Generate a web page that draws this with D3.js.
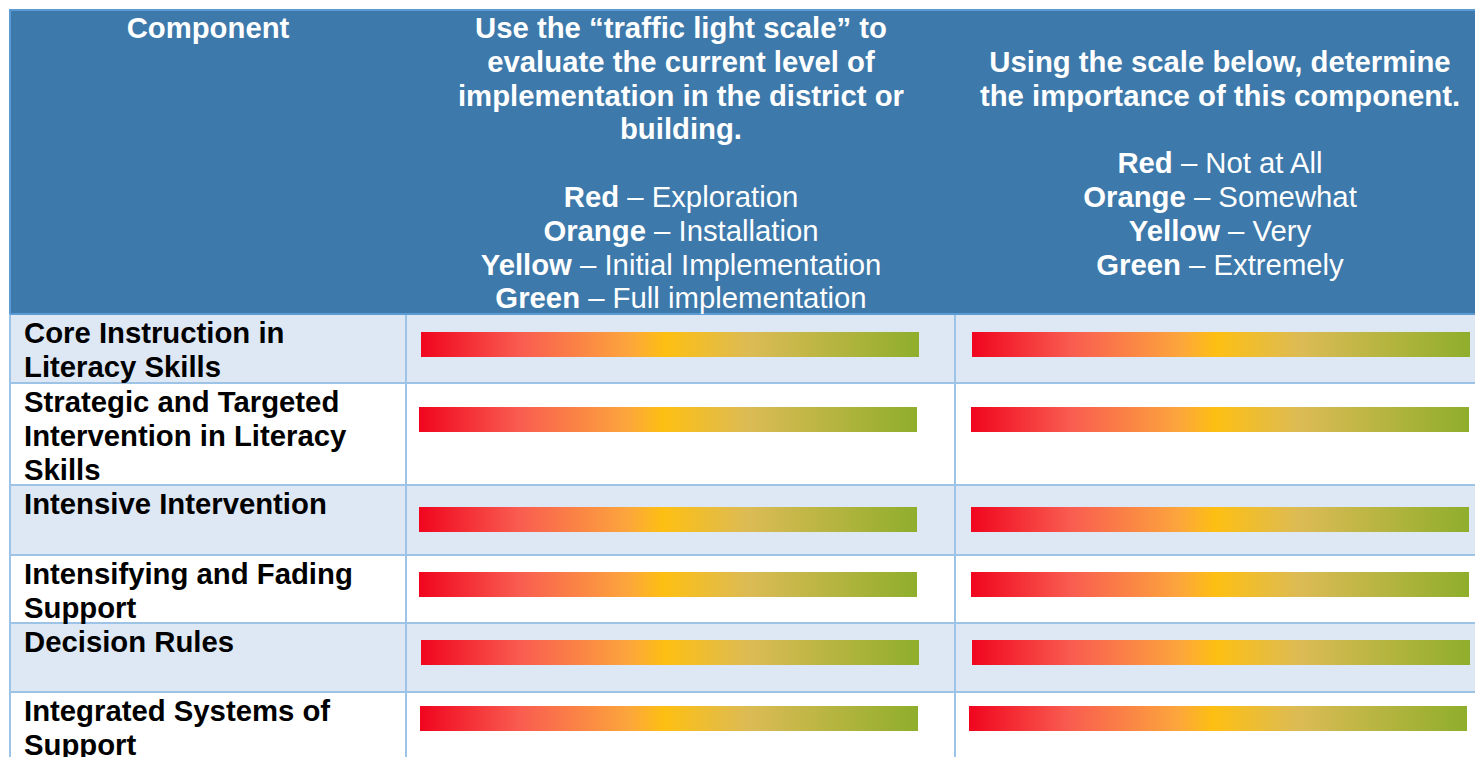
<!DOCTYPE html>
<html>
<head>
<meta charset="utf-8">
<script src="https://cdn.jsdelivr.net/npm/d3@7"></script>
<style>
  html, body { margin: 0; padding: 0; background: #ffffff; }
  svg { display: block; }
  text { font-family: "Liberation Sans", Arial, sans-serif; }
</style>
</head>
<body>
<svg id="chart" width="1475" height="757"></svg>
<script>
// ---------- data ----------
const headerTitles = [
  ["Component"],
  ["Use the \u201ctraffic light scale\u201d to", "evaluate the current level of", "implementation in the district or", "building."],
  ["Using the scale below, determine", "the importance of this component."]
];
const implementationLevels = ["Red", "Orange", "Yellow", "Green"];
const implementationLabels = ["Exploration", "Installation", "Initial Implementation", "Full implementation"];
const importanceLevels = ["Red", "Orange", "Yellow", "Green"];
const importanceLabels = ["Not at All", "Somewhat", "Very", "Extremely"];
const components = [
  ["Core Instruction in", "Literacy Skills"],
  ["Strategic and Targeted", "Intervention in Literacy", "Skills"],
  ["Intensive Intervention"],
  ["Intensifying and Fading", "Support"],
  ["Decision Rules"],
  ["Integrated Systems of", "Support"]
];
// each bar spans the full traffic-light scale (0 = red, 1 = green)
const scaleStart = [0, 0, 0, 0, 0, 0];
const scaleEnd = [1, 1, 1, 1, 1, 1];
const gradientOffsets = [0, 0.2, 0.42, 0.49, 0.66, 1];
const gradientColors = ["#f0051e", "#f95c50", "#fca63c", "#fdbf12", "#dcbb55", "#8fae2c"];

// ---------- layout ----------
const svg = d3.select("#chart");
const tableLeft = 10, tableTop = 10, tableRight = 1486;
const colEdges = [tableLeft, 406, 955, tableRight];
const headerBottom = 314;
const rowEdges = [314, 383, 485, 555, 623, 692, 780];
const barTopOffset = [18, 24, 22, 17, 17, 14];
const barHeight = 25;
const barX = [[420, 918], [971, 1469]];
const barShift = [[1, 1], [-1, 0], [-1, 0], [-1, 0], [1, 1], [0, -2]];
const headerFill = "#3d79aa";
const outerLine = "#5b9bd5";
const gridLine = "#9dc3e6";
const bandFill = "#dde8f4";
const fontSize = 29.3;
const lineH = 33.8;

// gradient
const defs = svg.append("defs");
const grad = defs.append("linearGradient").attr("id", "traffic")
  .attr("x1", "0%").attr("x2", "100%").attr("y1", "0%").attr("y2", "0%");
grad.selectAll("stop").data(gradientOffsets).join("stop")
  .attr("offset", d => d)
  .attr("stop-color", (d, i) => gradientColors[i]);

// header background
svg.append("rect").attr("x", tableLeft).attr("y", tableTop)
  .attr("width", tableRight - tableLeft).attr("height", headerBottom - tableTop)
  .attr("fill", headerFill);

// row backgrounds
const rows = svg.append("g");
components.forEach((c, i) => {
  rows.append("rect").attr("x", tableLeft).attr("y", rowEdges[i])
    .attr("width", tableRight - tableLeft).attr("height", rowEdges[i + 1] - rowEdges[i])
    .attr("fill", i % 2 === 0 ? bandFill : "#ffffff");
});

// grid lines
const grid = svg.append("g").attr("stroke", gridLine).attr("stroke-width", 2);
rowEdges.slice(1, -1).forEach(y => {
  grid.append("line").attr("x1", tableLeft).attr("x2", tableRight).attr("y1", y).attr("y2", y);
});
[colEdges[1], colEdges[2]].forEach(x => {
  grid.append("line").attr("x1", x).attr("x2", x).attr("y1", headerBottom).attr("y2", 760);
});
grid.append("line").attr("x1", tableLeft).attr("x2", tableLeft).attr("y1", headerBottom).attr("y2", 760);

// outer / header borders
const ob = svg.append("g").attr("stroke", outerLine).attr("stroke-width", 2);
ob.append("line").attr("x1", tableLeft - 1).attr("x2", tableRight).attr("y1", tableTop).attr("y2", tableTop);
ob.append("line").attr("x1", tableLeft).attr("x2", tableLeft).attr("y1", tableTop).attr("y2", headerBottom);
ob.append("line").attr("x1", tableLeft).attr("x2", tableRight).attr("y1", headerBottom).attr("y2", headerBottom);

// header text
const hdr = svg.append("g").attr("fill", "#ffffff").attr("font-size", fontSize).attr("text-anchor", "middle");
const firstBaseline = 38;
headerTitles[0].forEach((t, k) => {
  hdr.append("text").attr("x", 208).attr("y", firstBaseline + k * lineH).attr("font-weight", "bold").text(t);
});
headerTitles[1].forEach((t, k) => {
  hdr.append("text").attr("x", 681).attr("y", firstBaseline + k * lineH).attr("font-weight", "bold").text(t);
});
implementationLevels.forEach((lvl, k) => {
  const tx = hdr.append("text").attr("x", 681).attr("y", firstBaseline + (k + 5) * lineH);
  tx.append("tspan").attr("font-weight", "bold").text(lvl);
  tx.append("tspan").text(" \u2013 " + implementationLabels[k]);
});
headerTitles[2].forEach((t, k) => {
  hdr.append("text").attr("x", 1220).attr("y", firstBaseline + (k + 1) * lineH).attr("font-weight", "bold").text(t);
});
importanceLevels.forEach((lvl, k) => {
  const tx = hdr.append("text").attr("x", 1220).attr("y", firstBaseline + (k + 4) * lineH);
  tx.append("tspan").attr("font-weight", "bold").text(lvl);
  tx.append("tspan").text(" \u2013 " + importanceLabels[k]);
});

// row labels
const lbl = svg.append("g").attr("fill", "#000000").attr("font-size", fontSize).attr("font-weight", "bold");
components.forEach((lines, i) => {
  lines.forEach((t, k) => {
    lbl.append("text").attr("x", 24).attr("y", rowEdges[i] + 29 + k * lineH).text(t);
  });
});

// bars
const bars = svg.append("g");
components.forEach((c, i) => {
  [0, 1].forEach(col => {
    const x = d3.scaleLinear().domain([0, 1])
      .range([barX[col][0] + barShift[i][col], barX[col][1] + barShift[i][col]]);
    bars.append("rect")
      .attr("x", x(scaleStart[i]))
      .attr("y", rowEdges[i] + barTopOffset[i])
      .attr("width", x(scaleEnd[i]) - x(scaleStart[i]))
      .attr("height", barHeight)
      .attr("fill", "url(#traffic)");
  });
});
</script>
</body>
</html>
